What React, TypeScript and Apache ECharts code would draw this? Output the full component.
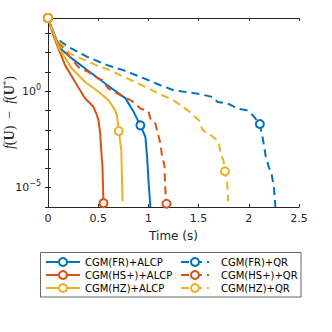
import React, { useEffect, useRef } from "react";
import * as echarts from "echarts";

const names = [
  "CGM(FR)+ALCP",
  "CGM(HS+)+ALCP",
  "CGM(HZ)+ALCP",
  "CGM(FR)+QR",
  "CGM(HS+)+QR",
  "CGM(HZ)+QR",
];

const frAlcpT = [0, 0.053, 0.12, 0.237, 0.37, 0.503, 0.637, 0.77, 0.853, 0.92, 0.97, 0.987, 1.003, 1.02];
const frAlcpV = [6.2e3, 1.2e3, 166, 50, 15.1, 4.57, 1.38, 0.437, 0.0851, 0.017, 4.27e-3, 3.89e-4, 1.62e-5, 1e-6];
const frAlcpMarks = [0, 9];

const hsAlcpT = [0, 0.053, 0.103, 0.17, 0.27, 0.37, 0.453, 0.487, 0.503, 0.52, 0.53, 0.543, 0.547, 0.553];
const hsAlcpV = [6.2e3, 794, 166, 22.4, 3.02, 0.417, 0.155, 0.0575, 0.0316, 6.3e-3, 8.7e-4, 1.17e-4, 1.58e-5, 1.58e-6];
const hsAlcpMarks = [0, 13];

const hzAlcpT = [0, 0.053, 0.12, 0.237, 0.37, 0.503, 0.603, 0.67, 0.687, 0.705, 0.73, 0.743];
const hzAlcpV = [6.2e3, 1000, 135, 15.1, 3.02, 0.933, 0.339, 0.102, 0.0562, 8.7e-3, 8.7e-4, 2.0e-6];
const hzAlcpMarks = [0, 9];

const frQrT = [0, 0.07, 0.2, 0.39, 0.59, 0.75, 0.92, 1.12, 1.25, 1.45, 1.52, 1.64, 1.69, 1.79, 1.89, 1.98, 2.04, 2.11, 2.14, 2.17, 2.2, 2.23, 2.25, 2.265];
const frQrV = [6.2e3, 631, 200, 60.3, 22.4, 12.3, 5.5, 2.04, 1.12, 0.794, 0.692, 0.501, 0.275, 0.229, 0.126, 0.102, 0.0562, 0.02, 3.47e-3, 3.89e-4, 1.17e-4, 4.37e-5, 1e-5, 1e-6];
const frQrMarks = [0, 17];

const hsQrT = [0, 0.07, 0.2, 0.3, 0.4, 0.47, 0.54, 0.6, 0.69, 0.79, 0.84, 0.92, 1.0, 1.02, 1.07, 1.12, 1.137, 1.16, 1.165, 1.172, 1.18];
const hsQrV = [6.2e3, 631, 79.4, 18.2, 10, 5.5, 3.72, 1.38, 0.759, 0.417, 0.302, 0.126, 0.0912, 0.038, 0.0209, 1.9e-3, 3.89e-4, 1.45e-4, 2.4e-5, 4e-6, 1.48e-6];
const hsQrMarks = [0, 20];

const hzQrT = [0, 0.07, 0.22, 0.5, 0.62, 0.72, 0.79, 0.9, 0.97, 1.07, 1.25, 1.39, 1.5, 1.54, 1.62, 1.7, 1.72, 1.75, 1.763, 1.785, 1.795];
const hzQrV = [6.2e3, 631, 89.1, 20, 12.3, 6.76, 4.57, 2.51, 1.66, 0.912, 0.339, 0.105, 0.0324, 9.8e-3, 5.4e-3, 2.45e-3, 6.0e-4, 2.24e-4, 7.1e-5, 1.66e-5, 2.0e-6];
const hzQrMarks = [0, 18];

const xTicks = [0, 0.5, 1, 1.5, 2, 2.5];
const yLabelExps = [0, -5];

const BLUE = "#0072BD";
const RED = "#D95319";
const YELLOW = "#EDB120";
const AX = "#262626";

function build(t: number[], v: number[], marks: number[]) {
  return t.map((x, i) =>
    marks.includes(i)
      ? { value: [x, v[i]], symbol: "emptyCircle" }
      : { value: [x, v[i]], symbol: "none" }
  );
}

export default function App() {
  const ref = useRef<HTMLDivElement>(null);
  useEffect(() => {
    if (!ref.current) return;
    const chart = echarts.init(ref.current, null, { renderer: "svg" });
    const mk = (name: string, color: string, dashed: boolean, t: number[], v: number[], m: number[]) => ({
      name,
      type: "line",
      data: build(t, v, m),
      symbol: "emptyCircle",
      symbolSize: 8,
      showSymbol: true,
      showAllSymbol: true,
      clip: false,
      color,
      lineStyle: { color, width: 2, type: dashed ? [8, 5] : "solid" },
      itemStyle: { color, borderColor: color, borderWidth: 2 },
      emphasis: { disabled: true },
    });
    const yLabelFmt = (val: number) => {
      const l = Math.log10(val);
      const e = Math.round(l);
      if (Math.abs(l - e) > 1e-6) return "";
      if (!yLabelExps.includes(e)) return "";
      return "{b|10}{s|" + (e < 0 ? "\u2212" + -e : String(e)) + "}";
    };
    const yAxisBase = {
      type: "log",
      logBase: 10,
      min: 1e-6,
      max: 6.2e3,
      interval: 1,
      axisLine: { show: true, lineStyle: { color: AX, width: 1 } },
      axisTick: { show: true, inside: true, length: 3, lineStyle: { color: AX } },
      splitLine: { show: false },
      minorTick: { show: false },
    };
    const xAxisBase = {
      type: "value",
      min: 0,
      max: 2.5,
      interval: 0.5,
      axisLine: { show: true, onZero: false, lineStyle: { color: AX, width: 1 } },
      axisTick: { show: true, inside: true, length: 3, lineStyle: { color: AX } },
      splitLine: { show: false },
    };
    chart.setOption({
      animation: false,
      backgroundColor: "#fff",
      grid: { left: 48, right: 33, top: 18, bottom: 125, containLabel: false, outerBoundsMode: "none" },
      xAxis: [
        {
          ...xAxisBase,
          position: "bottom",
          axisLabel: {
            show: true,
            margin: 6,
            color: AX,
            fontSize: 11,
            fontFamily: "DejaVu Sans",
            formatter: (v: number) => (xTicks.includes(Math.round(v * 10) / 10) ? String(v) : ""),
          },
          name: "Time (s)",
          nameLocation: "middle",
          nameGap: 23,
          nameMoveOverlap: false,
          nameTextStyle: { color: AX, fontSize: 12, fontFamily: "DejaVu Sans", verticalAlign: "top" },
        },
        { ...xAxisBase, position: "top", axisLabel: { show: false } },
      ],
      yAxis: [
        {
          ...yAxisBase,
          position: "left",
          axisLabel: {
            show: true,
            margin: 7,
            color: AX,
            formatter: yLabelFmt,
            rich: {
              b: { fontSize: 11, fontFamily: "DejaVu Sans", color: AX },
              s: { fontSize: 8, fontFamily: "DejaVu Sans", color: AX, padding: [0, 0, 8, 0] },
            },
          },
          name: "{i|f}{n|(}{b|U}{n|)  \u2212  }{i|f}{n|(}{b|U}{s|*}{n|)}",
          nameLocation: "middle",
          nameGap: 31,
          nameMoveOverlap: false,
          nameRotate: 90,
          nameTextStyle: {
            color: AX,
            rich: {
              i: { fontSize: 14, fontStyle: "italic", fontFamily: "Liberation Serif", color: AX },
              n: { fontSize: 14, fontFamily: "Liberation Serif", color: AX },
              b: { fontSize: 14, fontWeight: "bold", fontFamily: "Liberation Serif", color: AX },
              s: { fontSize: 9, fontFamily: "Liberation Serif", color: AX, padding: [0, 0, 7, 0] },
            },
          },
        },
        { ...yAxisBase, position: "right", axisLabel: { show: false } },
      ],
      legend: [
        {
          data: names.slice(0, 3),
          orient: "vertical",
          left: 45,
          top: 257,
          padding: 0,
          itemWidth: 34,
          itemHeight: 10,
          itemGap: 3,
          selectedMode: false,
          textStyle: { fontSize: 10, lineHeight: 10, fontFamily: "DejaVu Sans", color: "#000" },
        },
        {
          data: names.slice(3),
          orient: "vertical",
          left: 180,
          top: 257,
          padding: 0,
          itemWidth: 28,
          itemHeight: 10,
          itemGap: 3,
          selectedMode: false,
          textStyle: { fontSize: 10, lineHeight: 10, fontFamily: "DejaVu Sans", color: "#000", padding: [0, 0, 0, 7] },
        },
      ],
      graphic: [
        {
          type: "rect",
          shape: { x: 40.5, y: 252.5, width: 260.5, height: 44.5 },
          style: { fill: "transparent", stroke: "#404040", lineWidth: 0.8 },
          silent: true,
        },
      ],
      series: [
        mk(names[0], BLUE, false, frAlcpT, frAlcpV, frAlcpMarks),
        mk(names[1], RED, false, hsAlcpT, hsAlcpV, hsAlcpMarks),
        mk(names[2], YELLOW, false, hzAlcpT, hzAlcpV, hzAlcpMarks),
        mk(names[3], BLUE, true, frQrT, frQrV, frQrMarks),
        mk(names[4], RED, true, hsQrT, hsQrV, hsQrMarks),
        mk(names[5], YELLOW, true, hzQrT, hzQrV, hzQrMarks),
      ],
    });
    return () => chart.dispose();
  }, []);
  return <div ref={ref} style={{ width: 332, height: 332, position: "absolute", left: 0, top: 0 }} />;
}
